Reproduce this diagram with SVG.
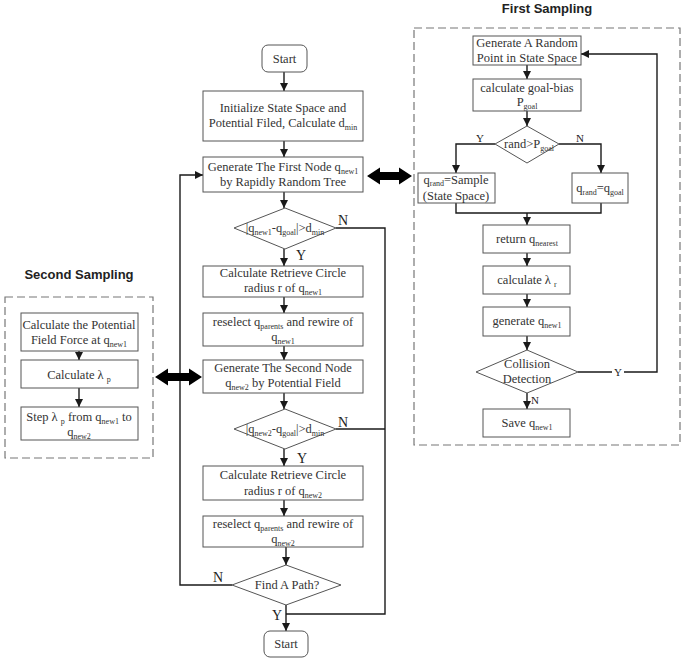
<svg xmlns="http://www.w3.org/2000/svg" width="685" height="661" viewBox="0 0 685 661">
<defs>
<marker id="ah" markerUnits="userSpaceOnUse" markerWidth="8" markerHeight="8" refX="8" refY="4" orient="auto"><path d="M0,0 L8,4 L0,8 z" fill="#1a1a1a"/></marker>
<style>
.b{fill:#fff;stroke:#555;stroke-width:1}
.t{font-family:"Liberation Serif","Times New Roman",serif;font-size:12.5px;fill:#333;text-anchor:middle}
.s{font-size:8px}
.lb{font-family:"Liberation Serif","Times New Roman",serif;font-size:14px;fill:#222;text-anchor:middle}
.ls{font-family:"Liberation Serif","Times New Roman",serif;font-size:11px;fill:#222;text-anchor:middle}
.ti{font-family:"Liberation Sans",Arial,sans-serif;font-weight:bold;font-size:13px;fill:#222;text-anchor:middle}
.c{fill:none;stroke:#1a1a1a;stroke-width:1.4}
.a{marker-end:url(#ah)}
.d{fill:none;stroke:#777;stroke-width:1.2;stroke-dasharray:8 4}
</style>
</defs>
<rect width="685" height="661" fill="#fff"/>

<!-- panels -->
<g id="first-sampling-panel">
<text class="ti" x="547" y="13">First Sampling</text>
<rect class="d" x="414" y="28" width="266" height="417"/>
</g>
<g id="second-sampling-panel">
<text class="ti" x="79" y="279">Second Sampling</text>
<rect class="d" x="5" y="297" width="148" height="161"/>
</g>

<!-- connectors -->
<g id="connectors">
<!-- center column -->
<line class="c a" x1="284" y1="72" x2="284" y2="91"/>
<line class="c a" x1="284" y1="141" x2="284" y2="157"/>
<line class="c a" x1="284" y1="192" x2="284" y2="208"/>
<line class="c a" x1="284" y1="249" x2="284" y2="266"/>
<line class="c a" x1="284" y1="297" x2="284" y2="313"/>
<line class="c a" x1="284" y1="346" x2="284" y2="360"/>
<line class="c a" x1="284" y1="393" x2="284" y2="409"/>
<line class="c a" x1="284" y1="449" x2="284" y2="466"/>
<line class="c a" x1="284" y1="500" x2="284" y2="516"/>
<line class="c a" x1="286" y1="547" x2="286" y2="565"/>
<line class="c a" x1="286" y1="605" x2="286" y2="631"/>
<polyline class="c" points="336,228 385,228 385,614 286,614"/>
<line class="c" x1="336" y1="429" x2="385" y2="429"/>
<polyline class="c a" points="232,585 180,585 180,175 203,175"/>
<!-- right panel -->
<line class="c a" x1="527" y1="65" x2="527" y2="79"/>
<line class="c a" x1="527" y1="111" x2="527" y2="126"/>
<polyline class="c a" points="495,144 456,144 456,173"/>
<polyline class="c a" points="559,144 601,144 601,173"/>
<polyline class="c" points="456,203 456,213 601,213 601,203"/>
<line class="c a" x1="527" y1="213" x2="527" y2="225"/>
<line class="c a" x1="527" y1="253" x2="527" y2="266"/>
<line class="c a" x1="527" y1="294" x2="527" y2="307"/>
<line class="c a" x1="527" y1="336" x2="527" y2="350"/>
<line class="c a" x1="527" y1="393" x2="527" y2="409"/>
<polyline class="c a" points="578,372 657,372 657,54 581,54"/>
<!-- left panel -->
<line class="c a" x1="79" y1="351" x2="79" y2="360"/>
<line class="c a" x1="79" y1="388" x2="79" y2="407"/>
<!-- double arrows -->
<polygon points="367,176 380,167.5 380,172 399,172 399,167.5 412,176 399,184.5 399,180 380,180 380,184.5" fill="#000"/>
<polygon points="155,377 168,368.5 168,373 189,373 189,368.5 202,377 189,385.5 189,381 168,381 168,385.5" fill="#000"/>
<!-- labels -->
<text class="lb" x="343" y="225">N</text>
<text class="lb" x="301" y="260">Y</text>
<text class="lb" x="343" y="427">N</text>
<text class="lb" x="302" y="463">Y</text>
<text class="lb" x="218" y="582">N</text>
<text class="lb" x="277" y="620">Y</text>
<text class="ls" x="480" y="142">Y</text>
<text class="ls" x="580" y="142">N</text>
<rect x="612" y="366" width="12" height="11" fill="#fff"/>
<text class="ls" x="618" y="376">Y</text>
<text class="ls" x="535" y="404">N</text>
</g>

<!-- center nodes -->
<g id="start-top"><rect class="b" x="262" y="45" width="45" height="27" rx="6"/><text class="t" x="284.5" y="63">Start</text></g>
<g id="init"><rect class="b" x="203" y="91" width="160" height="50"/>
<text class="t" x="283" y="112">Initialize State Space  and</text>
<text class="t" x="283" y="127">Potential Filed, Calculate d<tspan class="s" dy="2.5">min</tspan></text></g>
<g id="gen-first"><rect class="b" x="203" y="157" width="160" height="35"/>
<text class="t" x="283" y="171">Generate The First Node q<tspan class="s" dy="2.5">new1</tspan></text>
<text class="t" x="283" y="186">by Rapidly Random Tree</text></g>
<g id="dec1"><polygon class="b" points="285,208 336,228 285,249 234,228"/>
<text class="t" x="285" y="232">|q<tspan class="s" dy="2.5">new1</tspan><tspan dy="-2.5">-q</tspan><tspan class="s" dy="2.5">goal</tspan><tspan dy="-2.5">|&gt;d</tspan><tspan class="s" dy="2.5">min</tspan></text></g>
<g id="retrieve1"><rect class="b" x="203" y="266" width="160" height="31"/>
<text class="t" x="283" y="277">Calculate Retrieve Circle</text>
<text class="t" x="283" y="292">radius r of q<tspan class="s" dy="2.5">new1</tspan></text></g>
<g id="reselect1"><rect class="b" x="203" y="313" width="160" height="33"/>
<text class="t" x="283" y="326">reselect q<tspan class="s" dy="2.5">parents</tspan><tspan dy="-2.5"> and rewire of</tspan></text>
<text class="t" x="283" y="341">q<tspan class="s" dy="2.5">new1</tspan></text></g>
<g id="gen-second"><rect class="b" x="203" y="360" width="160" height="33"/>
<text class="t" x="283" y="372">Generate The Second Node</text>
<text class="t" x="283" y="387">q<tspan class="s" dy="2.5">new2</tspan><tspan dy="-2.5"> by Potential Field</tspan></text></g>
<g id="dec2"><polygon class="b" points="285,409 336,429 285,449 234,429"/>
<text class="t" x="285" y="433">|q<tspan class="s" dy="2.5">new2</tspan><tspan dy="-2.5">-q</tspan><tspan class="s" dy="2.5">goal</tspan><tspan dy="-2.5">|&gt;d</tspan><tspan class="s" dy="2.5">min</tspan></text></g>
<g id="retrieve2"><rect class="b" x="203" y="466" width="160" height="34"/>
<text class="t" x="283" y="479">Calculate Retrieve Circle</text>
<text class="t" x="283" y="495">radius r of q<tspan class="s" dy="2.5">new2</tspan></text></g>
<g id="reselect2"><rect class="b" x="203" y="516" width="160" height="31"/>
<text class="t" x="283" y="528">reselect q<tspan class="s" dy="2.5">parents</tspan><tspan dy="-2.5"> and rewire of</tspan></text>
<text class="t" x="283" y="543">q<tspan class="s" dy="2.5">new2</tspan></text></g>
<g id="find-path"><polygon class="b" points="286,565 341,585 286,605 232,585"/>
<text class="t" x="287" y="589">Find A Path?</text></g>
<g id="start-bottom"><rect class="b" x="264" y="631" width="44" height="26" rx="6"/><text class="t" x="286" y="648">Start</text></g>

<!-- right panel nodes -->
<g id="gen-random"><rect class="b" x="473" y="36" width="108" height="29"/>
<text class="t" x="527" y="47">Generate A Random</text>
<text class="t" x="527" y="62">Point in State Space</text></g>
<g id="goal-bias"><rect class="b" x="473" y="79" width="108" height="32"/>
<text class="t" x="527" y="92">calculate goal-bias</text>
<text class="t" x="527" y="106">P<tspan class="s" dy="2.5">goal</tspan></text></g>
<g id="rand-dec"><polygon class="b" points="527,126 559,144 527,163 495,144"/>
<text class="t" x="529" y="148">rand&gt;P<tspan class="s" dy="2.5">goal</tspan></text></g>
<g id="sample"><rect class="b" x="418" y="173" width="77" height="30"/>
<text class="t" x="456" y="184">q<tspan class="s" dy="2">rand</tspan><tspan dy="-2">=Sample</tspan></text>
<text class="t" x="456" y="200">(State Space)</text></g>
<g id="qgoal"><rect class="b" x="572" y="173" width="56" height="30"/>
<text class="t" x="600" y="192">q<tspan class="s" dy="2.5">rand</tspan><tspan dy="-2.5">=q</tspan><tspan class="s" dy="2.5">goal</tspan></text></g>
<g id="nearest"><rect class="b" x="483" y="225" width="87" height="28"/>
<text class="t" x="527" y="243">return q<tspan class="s" dy="2.5">nearest</tspan></text></g>
<g id="lambda-r"><rect class="b" x="483" y="266" width="87" height="28"/>
<text class="t" x="527" y="284">calculate  λ <tspan class="s" dy="2.5">r</tspan></text></g>
<g id="gen-qnew1"><rect class="b" x="483" y="307" width="87" height="29"/>
<text class="t" x="527" y="325">generate q<tspan class="s" dy="2.5">new1</tspan></text></g>
<g id="collision"><polygon class="b" points="527,350 578,372 527,393 476,372"/>
<text class="t" x="527" y="368">Collision</text>
<text class="t" x="527" y="383">Detection</text></g>
<g id="save"><rect class="b" x="483" y="409" width="87" height="28"/>
<text class="t" x="527" y="427">Save q<tspan class="s" dy="2.5">new1</tspan></text></g>

<!-- left panel nodes -->
<g id="pf-force"><rect class="b" x="21" y="313" width="117" height="38"/>
<text class="t" x="79" y="329">Calculate the Potential</text>
<text class="t" x="79" y="344">Field Force at q<tspan class="s" dy="2.5">new1</tspan></text></g>
<g id="lambda-p"><rect class="b" x="21" y="360" width="117" height="28"/>
<text class="t" x="79" y="379">Calculate  λ <tspan class="s" dy="2.5">p</tspan></text></g>
<g id="step"><rect class="b" x="21" y="407" width="117" height="33"/>
<text class="t" x="79" y="421">Step  λ <tspan class="s" dy="2.5">p</tspan><tspan dy="-2.5"> from q</tspan><tspan class="s" dy="2.5">new1</tspan><tspan dy="-2.5"> to</tspan></text>
<text class="t" x="79" y="436">q<tspan class="s" dy="2.5">new2</tspan></text></g>
</svg>
